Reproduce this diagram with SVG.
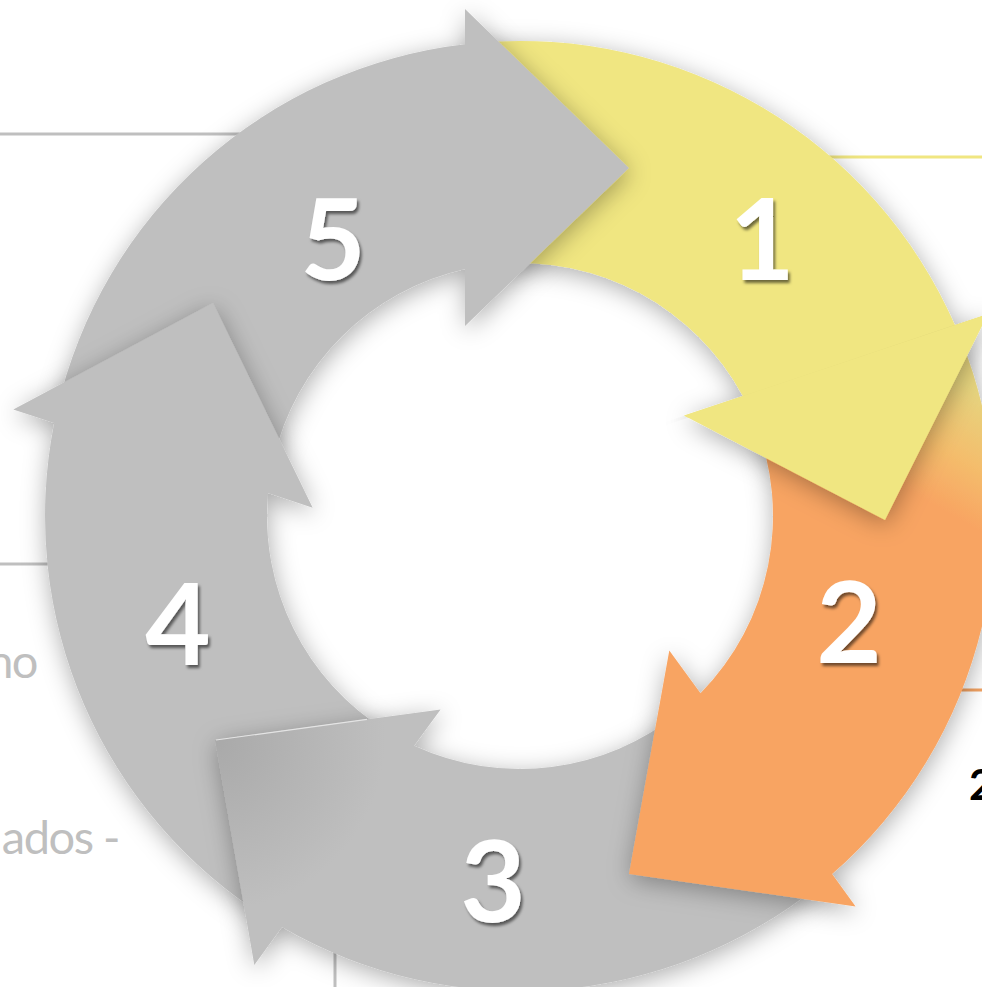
<svg xmlns="http://www.w3.org/2000/svg" width="982" height="987" viewBox="0 0 982 987">
<defs>
<style>
.lead{stroke-width:3;fill:none}
.num{font-family:Lato,"Liberation Sans",sans-serif;font-weight:700;font-size:113px;fill:#FFFFFF;text-anchor:middle}
.side{font-family:Lato,"Liberation Sans",sans-serif;font-weight:400;font-size:47px;fill:#BFBFBF;letter-spacing:-1.5px}
.gray{fill:#BFBFBF}
</style>
<filter id="sh" x="-25%" y="-25%" width="150%" height="150%">
<feDropShadow dx="1" dy="5" stdDeviation="12" flood-color="#000000" flood-opacity="0.32"/>
</filter>
<filter id="tsh" x="-20%" y="-20%" width="140%" height="140%">
<feDropShadow dx="2" dy="3" stdDeviation="1.5" flood-color="#000000" flood-opacity="0.55"/>
</filter>
<clipPath id="tipSide"><polygon points="-205.2,714.1 1690.8,78.1 2008.8,1026.1 112.8,1662.1"/></clipPath>
<clipPath id="bodySide"><polygon points="-204.25,716.94 1691.75,80.94 1055.75,-1815.06 -840.25,-1179.06"/></clipPath>
<linearGradient id="orangeGrad" gradientUnits="userSpaceOnUse" x1="985" y1="395" x2="925" y2="500">
<stop offset="0" stop-color="#E6D47E"/>
<stop offset="0.55" stop-color="#F4BD6C"/>
<stop offset="1" stop-color="#F8A462"/>
</linearGradient>
<radialGradient id="headGrad" gradientUnits="userSpaceOnUse" cx="215" cy="740" r="170">
<stop offset="0" stop-color="#A9A9A9"/>
<stop offset="1" stop-color="#BFBFBF"/>
</radialGradient>
</defs>
<rect x="0" y="0" width="982" height="987" fill="#FFFFFF"/>

<g id="connectors">
<line class="lead" x1="0" y1="134" x2="250" y2="134" stroke="#BFBFBF"/>
<line class="lead" x1="0" y1="564" x2="60" y2="564" stroke="#BFBFBF"/>
<line class="lead" x1="815" y1="157" x2="982" y2="157" stroke="#F0E681"/>
<line class="lead" x1="945" y1="690" x2="982" y2="690" stroke="#F2A262"/>
<line class="lead" x1="335" y1="935" x2="335" y2="987" stroke="#BFBFBF"/>
</g>

<g id="labels">
<text class="side" x="37" y="678" text-anchor="end">no</text>
<text class="side" x="119" y="854" text-anchor="end">ados -</text>
<text x="969" y="800" font-family="Lato, 'Liberation Sans', sans-serif" font-weight="700" font-size="42" fill="#000000">2</text>
</g>

<g id="node-1">
<path clip-path="url(#bodySide)" filter="url(#sh)" fill="#F0E681" d="M 478.60 42.81 A 475 475 0 0 1 954.90 325.00 L 988 314 L 885 520 L 684 415.5 L 742.80 396.10 A 253 253 0 0 0 497.95 263.96 Z"/>
<text class="num" x="762" y="280" filter="url(#tsh)">1</text>
</g>

<g id="node-5">
<path class="gray" filter="url(#sh)" d="M 57.17 409.15 A 475 475 0 0 1 465 44.2 L 465 9 L 629 168 L 465 326 L 465 269.05 A 253 253 0 0 0 273.48 459.09 Z"/>
<text class="num" x="333" y="280" filter="url(#tsh)">5</text>
</g>

<g id="node-4">
<path class="gray" filter="url(#sh)" d="M 268.29 918.82 A 475 475 0 0 1 54.2 423.0 L 13.3 409.6 L 213 303 L 312.7 507.7 L 268.04 493.07 A 253 253 0 0 0 385.93 730.56 Z"/>
<text class="num" x="178" y="665" filter="url(#tsh)">4</text>
</g>

<g id="node-3">
<path fill="url(#headGrad)" filter="url(#sh)" d="M 818.93 885.15 A 475 475 0 0 1 282.0 927.1 L 254.3 965.1 L 215 740 L 440.6 709.4 L 414.1 745.8 A 253 253 0 0 0 679.22 712.62 Z"/>
<line x1="216" y1="740" x2="367" y2="719.3" stroke="#E4E4E4" stroke-width="1.2"/>
<text class="num" x="493" y="922" filter="url(#tsh)">3</text>
</g>

<g id="node-2">
<path clip-path="url(#tipSide)" fill="url(#orangeGrad)" filter="url(#sh)" d="M 960.41 338.06 A 475 475 0 0 1 832.1 874.1 L 855.6 906.4 L 629 874 L 669.3 650.4 L 700.5 693.3 A 253 253 0 0 0 754.58 421.22 Z"/>
<text class="num" x="849" y="663" filter="url(#tsh)">2</text>
</g>

<g id="node-1-head">
<path clip-path="url(#tipSide)" filter="url(#sh)" fill="#F0E681" d="M 988 314 L 885 520 L 684 415.5 Z"/>
</g>
</svg>
